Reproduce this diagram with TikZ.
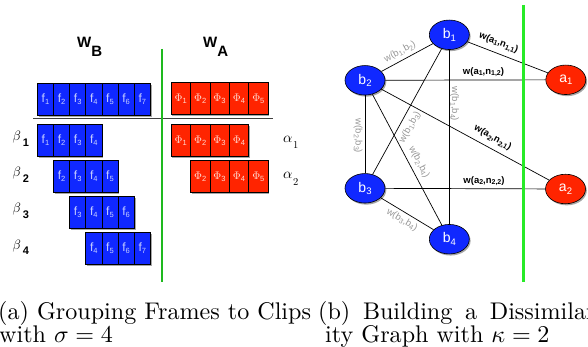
\RequirePackage{fix-cm}
\documentclass[tikz,border=0pt]{standalone}
\usepackage{fontspec}
\newfontfamily\hv{Liberation Sans}
\usetikzlibrary{shapes.geometric,shadows}
\definecolor{cblue}{RGB}{16,40,255}
\definecolor{cred}{RGB}{255,36,0}
\definecolor{gleft}{RGB}{30,185,30}
\definecolor{gright}{RGB}{40,235,40}
\definecolor{btxt}{RGB}{200,208,255}
\definecolor{rtxt}{RGB}{255,215,205}
\definecolor{wgrey}{RGB}{150,150,150}
\newcommand\lsub[2][7.5]{\raisebox{-0.35ex}{\fontsize{#1}{#1}\selectfont #2}}
\tikzset{
  shad/.style={drop shadow={shadow xshift=1.3pt,shadow yshift=-1.6pt,opacity=.35,fill=black}},
  browbox/.style={rectangle,draw=black,line width=0.9pt,fill=cblue,minimum height=31.3pt,inner sep=0pt,shad},
  rrowbox/.style={rectangle,draw=black,line width=0.9pt,fill=cred,minimum height=31.3pt,inner sep=0pt,shad},
  bcell/.style={rectangle,draw=black,line width=0.7pt,fill=cblue,minimum width=16.14pt,minimum height=31.3pt,inner sep=0pt,text=btxt,font=\hv\fontsize{12}{12}\selectfont},
  rcell/.style={rectangle,draw=black,line width=0.7pt,fill=cred,minimum width=19.4pt,minimum height=31.3pt,inner sep=0pt,text=rtxt,font=\hv\fontsize{11}{11}\selectfont},
  gnode/.style={ellipse,draw=black,line width=0.6pt,minimum width=40pt,minimum height=29.5pt,inner sep=0pt,text=white,font=\hv\fontsize{14}{14}\selectfont,shad},
  bnode/.style={gnode,fill=cblue},
  anode/.style={gnode,fill=cred},
  lnk/.style={draw=black,line width=0.7pt},
  glab/.style={inner sep=0pt,text=wgrey,font=\hv\fontsize{9.5}{9.5}\selectfont},
  klab/.style={inner sep=0pt,text=black,font=\hv\bfseries\fontsize{9.5}{9.5}\selectfont},
  captxt/.style={inner sep=0pt,anchor=base west},
}
\begin{document}
\begin{tikzpicture}[x=1pt,y=-1pt]
\useasboundingbox (0,0) rectangle (588,347);

% ---------- left panel ----------
\node[anchor=base west,inner sep=0pt,font=\hv\bfseries\fontsize{15}{15}\selectfont] (wb) at (77,48) {W\raisebox{-8.5pt}{B}};
\node[anchor=base west,inner sep=0pt,font=\hv\bfseries\fontsize{15}{15}\selectfont] (wa) at (203,48) {W\raisebox{-8.5pt}{A}};

\coordinate (sepL) at (33,118.3);
\coordinate (sepR) at (273,118.3);
\draw[draw=black!75,line width=1pt] (sepL) -- (sepR);

\foreach \nm/\x/\y/\s/\e in {btop/37/83.3/1/7, bone/37/124.3/1/4, btwo/53.14/160.3/2/5, bthree/69.28/196.3/3/6, bfour/85.42/232.3/4/7}{
  \pgfmathsetmacro\rw{(\e-\s+1)*16.14}
  \node[browbox,minimum width=\rw pt,anchor=north west] (\nm) at (\x,\y) {};
  \foreach \i in {\s,...,\e}{
    \node[bcell,anchor=north west] (\nm-\i) at ({\x+16.14*(\i-\s)},\y) {f\lsub{\i}};
  }
}
\foreach \nm/\x/\y/\s/\e in {rtop/170.7/82.3/1/5, rone/170.7/124.3/1/4, rtwo/190.1/160.3/2/5}{
  \pgfmathsetmacro\rw{(\e-\s+1)*19.4}
  \node[rrowbox,minimum width=\rw pt,anchor=north west] (\nm) at (\x,\y) {};
  \foreach \i in {\s,...,\e}{
    \node[rcell,anchor=north west] (\nm-\i) at ({\x+19.4*(\i-\s)},\y) {$\Phi$\lsub{\i}};
  }
}

\foreach \k/\yy in {1/141,2/177,3/213,4/249}{
  \node[anchor=base west,inner sep=0pt] (beta\k) at (12.5,\yy) {\scalebox{1.35}{$\beta$}\hspace{1.8pt}\raisebox{-5.5pt}{\hv\bfseries\fontsize{11}{11}\selectfont\k}};
}
\foreach \k/\yy in {1/143,2/179}{
  \node[anchor=base west,inner sep=0pt] (alpha\k) at (283,\yy) {\scalebox{1.45}{$\alpha$}\hspace{0.6pt}\raisebox{-6pt}{\fontsize{10.5}{10.5}\selectfont\k}};
}

\coordinate (gLt) at (161.5,49);
\coordinate (gLb) at (161.5,281.5);
\draw[draw=gleft,line width=2pt] (gLt) -- (gLb);

% ---------- right panel ----------
\node[bnode] (b1) at (449.3,34.8) {b\lsub[9.5]{1}};
\node[bnode] (b2) at (365,80.3) {b\lsub[9.5]{2}};
\node[bnode] (b3) at (365,188.3) {b\lsub[9.5]{3}};
\node[bnode] (b4) at (449.3,239.2) {b\lsub[9.5]{4}};
\node[anode] (a1) at (565.8,79.8) {a\lsub[9.5]{1}};
\node[anode] (a2) at (565.5,189) {a\lsub[9.5]{2}};

\draw[lnk] (b1) -- (b2);
\draw[lnk] (b1) -- (b3);
\draw[lnk] (b1) -- (b4);
\draw[lnk] (b2) -- (b3);
\draw[lnk] (b2) -- (b4);
\draw[lnk] (b3) -- (b4);
\draw[lnk] (b1) -- (a1);
\draw[lnk] (b2) -- (a1);
\draw[lnk] (b2) -- (a2);
\draw[lnk] (b3) -- (a2);

\node[glab,rotate=28] (l12) at (400,52) {w(b\lsub[7]{1},b\lsub[7]{2})};
\node[glab,rotate=-90] (l23) at (358,136) {w(b\lsub[7]{2},b\lsub[7]{3})};
\node[glab,rotate=-90] (l14) at (454.5,104) {w(b\lsub[7]{1},b\lsub[7]{4})};
\node[glab,rotate=61] (l13) at (410,127) {w(b\lsub[7]{1},b\lsub[7]{3})};
\node[glab,rotate=-62] (l24) at (419,162) {w(b\lsub[7]{2},b\lsub[7]{4})};
\node[glab,rotate=-31] (l34) at (402,220) {w(b\lsub[7]{3},b\lsub[7]{4})};

\node[klab,rotate=-21] (k11) at (498.5,43) {w(a\lsub[7]{1},n\lsub[7]{1,1})};
\node[klab] (k12) at (483.5,72) {w(a\lsub[7]{1},n\lsub[7]{1,2})};
\node[klab,rotate=-29] (k21) at (492.5,138) {w(a\lsub[7]{2},n\lsub[7]{2,1})};
\node[klab] (k22) at (484,181) {w(a\lsub[7]{2},n\lsub[7]{2,2})};

\coordinate (gRt) at (523.5,5);
\coordinate (gRb) at (523.5,282);
\draw[draw=gright,line width=2.3pt] (gRt) -- (gRb);

% ---------- captions ----------
\node[captxt] (ca1) at (-2,319.5) {\scalebox{2.41}{(a) Grouping Frames to Clips}};
\node[captxt] (ca2) at (-1,342.5) {\scalebox{2.41}{with $\sigma=4$}};
\node[captxt] (cb1) at (318,319.5) {\scalebox{2.41}{\hbox to 118.45pt{(b)\hfill Building\hfill a\hfill Dissimilar-}}};
\node[captxt] (cb2) at (325,342.5) {\scalebox{2.41}{ity Graph with $\kappa=2$}};
\end{tikzpicture}
\end{document}
